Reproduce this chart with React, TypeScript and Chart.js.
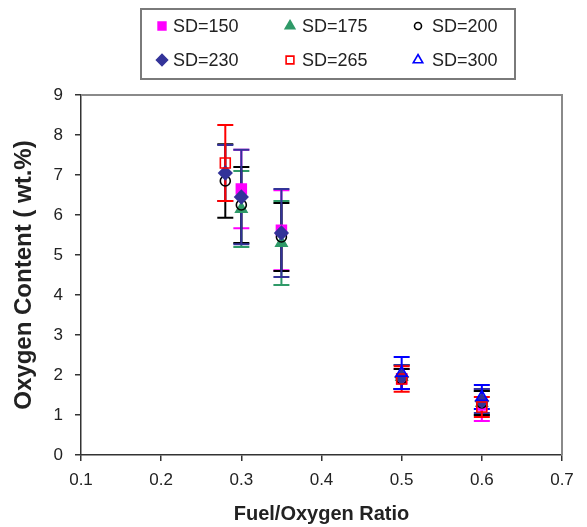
import React, { useEffect, useRef } from 'react';
import { Chart, registerables } from 'chart.js';

Chart.register(...registerables);

const FONT = "Arial, 'Liberation Sans', Helvetica, sans-serif";

const seriesLabels = ['SD=150', 'SD=175', 'SD=200', 'SD=230', 'SD=265', 'SD=300'];

const sd150X = [0.30, 0.35, 0.50, 0.60];
const sd150Y = [6.65, 5.62, 1.90, 1.25];
const sd150Err = [0.98, 1.00, 0.25, 0.40];

const sd175X = [0.30, 0.35, 0.50, 0.60];
const sd175Y = [6.15, 5.30, 1.95, 1.30];
const sd175Err = [0.95, 1.05, 0.30, 0.30];

const sd200X = [0.28, 0.30, 0.35, 0.50, 0.60];
const sd200Y = [6.85, 6.25, 5.45, 1.90, 1.30];
const sd200Err = [0.92, 0.95, 0.85, 0.25, 0.30];

const sd230X = [0.28, 0.30, 0.35, 0.50, 0.60];
const sd230Y = [7.05, 6.45, 5.55, 1.95, 1.35];
const sd230Err = [0.70, 1.18, 1.10, 0.30, 0.30];

const sd265X = [0.28, 0.50, 0.60];
const sd265Y = [7.30, 1.90, 1.20];
const sd265Err = [0.95, 0.32, 0.25];

const sd300X = [0.50, 0.60];
const sd300Y = [2.05, 1.45];
const sd300Err = [0.40, 0.30];

const seriesX = [sd150X, sd175X, sd200X, sd230X, sd265X, sd300X];
const seriesY = [sd150Y, sd175Y, sd200Y, sd230Y, sd265Y, sd300Y];
const seriesErr = [sd150Err, sd175Err, sd200Err, sd230Err, sd265Err, sd300Err];

const seriesColors = ['#ff00ff', '#2f9a68', '#000000', '#333399', '#ff0000', '#0000ff'];
const seriesStyles = ['rect', 'triangle', 'circle', 'rectRot', 'rect', 'triangle'];
const seriesFilled = [true, true, false, true, false, false];
const seriesRadius = [7, 6.5, 5, 6.5, 7, 6.5];

const xTickLabels = ['0.1', '0.2', '0.3', '0.4', '0.5', '0.6', '0.7'];

function drawMarker(ctx: CanvasRenderingContext2D, style: string, x: number, y: number, r: number, color: string, filled: boolean) {
  ctx.save();
  ctx.beginPath();
  if (style === 'rect') {
    const s = Math.SQRT1_2 * r;
    ctx.rect(x - s, y - s, 2 * s, 2 * s);
  } else if (style === 'rectRot') {
    ctx.moveTo(x - r, y);
    ctx.lineTo(x, y - r);
    ctx.lineTo(x + r, y);
    ctx.lineTo(x, y + r);
    ctx.closePath();
  } else if (style === 'triangle') {
    for (let k = 0; k < 3; k++) {
      const a = (k * 2 * Math.PI) / 3;
      const px = x + Math.sin(a) * r;
      const py = y - Math.cos(a) * r;
      if (k === 0) ctx.moveTo(px, py);
      else ctx.lineTo(px, py);
    }
    ctx.closePath();
  } else {
    ctx.arc(x, y, r, 0, Math.PI * 2);
  }
  if (filled) {
    ctx.fillStyle = color;
    ctx.fill();
  }
  ctx.strokeStyle = color;
  ctx.lineWidth = 1.6;
  ctx.stroke();
  ctx.restore();
}

const errorBarPlugin = {
  id: 'errorBars',
  beforeDatasetsDraw(chart: any) {
    const { ctx, scales } = chart;
    const xs = scales.x;
    const ys = scales.y;
    const cap = 8;
    for (let i = 0; i < seriesErr.length; i++) {
      const color = seriesColors[i];
      ctx.save();
      ctx.strokeStyle = color;
      ctx.lineWidth = 2;
      for (let j = 0; j < seriesX[i].length; j++) {
        const px = xs.getPixelForValue(seriesX[i][j]);
        const top = ys.getPixelForValue(seriesY[i][j] + seriesErr[i][j]);
        const bot = ys.getPixelForValue(seriesY[i][j] - seriesErr[i][j]);
        ctx.beginPath();
        ctx.moveTo(px, top);
        ctx.lineTo(px, bot);
        ctx.moveTo(px - cap, top);
        ctx.lineTo(px + cap, top);
        ctx.moveTo(px - cap, bot);
        ctx.lineTo(px + cap, bot);
        ctx.stroke();
      }
      ctx.restore();
    }
  },
};

const frameLegendPlugin = {
  id: 'frameLegend',
  beforeDatasetsDraw(chart: any) {
    const { ctx, chartArea } = chart;
    ctx.save();
    ctx.strokeStyle = '#8a8a8a';
    ctx.lineWidth = 2;
    ctx.beginPath();
    ctx.moveTo(chartArea.left, chartArea.top);
    ctx.lineTo(chartArea.right, chartArea.top);
    ctx.lineTo(chartArea.right, chartArea.bottom);
    ctx.stroke();
    ctx.restore();
  },
  afterDraw(chart: any) {
    const { ctx } = chart;
    ctx.save();
    ctx.fillStyle = '#ffffff';
    ctx.fillRect(141, 9, 374, 70);
    ctx.strokeStyle = '#7a7a7a';
    ctx.lineWidth = 2;
    ctx.strokeRect(141, 9, 374, 70);
    const markerX = [162, 290, 418];
    const textX = [173, 302, 432];
    const rowY = [26, 60];
    ctx.font = `18px ${FONT}`;
    ctx.textBaseline = 'middle';
    ctx.textAlign = 'left';
    for (let i = 0; i < seriesLabels.length; i++) {
      const col = i % 3;
      const row = Math.floor(i / 3);
      const r = seriesStyles[i] === 'circle' ? 3.5 : 5.5;
      drawMarker(ctx, seriesStyles[i], markerX[col], rowY[row], r, seriesColors[i], seriesFilled[i]);
      ctx.fillStyle = '#222222';
      ctx.fillText(seriesLabels[i], textX[col], rowY[row] + 1);
    }
    ctx.restore();
  },
};

export default function App() {
  const canvasRef = useRef<HTMLCanvasElement | null>(null);

  useEffect(() => {
    if (!canvasRef.current) return;
    const datasets = seriesLabels.map((label, i) => ({
      label,
      data: seriesX[i].map((x, j) => ({ x, y: seriesY[i][j] })),
      pointStyle: seriesStyles[i],
      pointRadius: seriesRadius[i],
      pointBackgroundColor: seriesFilled[i] ? seriesColors[i] : 'rgba(0,0,0,0)',
      pointBorderColor: seriesColors[i],
      pointBorderWidth: 1.6,
      showLine: false,
      order: seriesLabels.length - i,
    }));

    const chart = new Chart(canvasRef.current, {
      type: 'scatter',
      data: { datasets },
      options: {
        animation: false,
        responsive: true,
        maintainAspectRatio: false,
        layout: { padding: { top: 95, right: 25, left: 0, bottom: 0 } },
        plugins: {
          legend: { display: false },
          tooltip: { enabled: false },
        },
        scales: {
          x: {
            type: 'linear',
            min: 0.1,
            max: 0.7,
            afterFit: (s: any) => {
              s.height = 72;
            },
            afterBuildTicks: (s: any) => {
              s.ticks = xTickLabels.map((t) => ({ value: parseFloat(t) }));
            },
            ticks: {
              font: { size: 17, family: FONT },
              color: '#222222',
              padding: 9,
              maxRotation: 0,
              callback: (v: any) => Number(v).toFixed(1),
            },
            grid: { drawOnChartArea: false, drawTicks: true, tickLength: 6, color: '#333333', lineWidth: 1.5 },
            border: { display: true, color: '#333333', width: 1.5 },
            title: {
              display: true,
              text: 'Fuel/Oxygen Ratio',
              font: { size: 20, weight: 'bold', family: FONT },
              color: '#222222',
              padding: { top: 0, bottom: 1 },
            },
          },
          y: {
            type: 'linear',
            min: 0,
            max: 9,
            afterFit: (s: any) => {
              s.width = 81;
            },
            ticks: {
              stepSize: 1,
              font: { size: 17, family: FONT },
              color: '#222222',
              padding: 12,
            },
            grid: { drawOnChartArea: false, drawTicks: true, tickLength: 6, color: '#333333', lineWidth: 1.5 },
            border: { display: true, color: '#333333', width: 1.5 },
            title: {
              display: true,
              text: 'Oxygen Content ( wt.%)',
              font: { size: 24, weight: 'bold', family: FONT },
              color: '#222222',
              padding: { top: 10, bottom: 0 },
            },
          },
        },
      },
      plugins: [errorBarPlugin, frameLegendPlugin],
    } as any);

    return () => {
      chart.destroy();
    };
  }, []);

  return (
    <div style={{ position: 'fixed', left: 0, top: 0, width: 587, height: 527, background: '#ffffff' }}>
      <canvas ref={canvasRef} />
    </div>
  );
}
